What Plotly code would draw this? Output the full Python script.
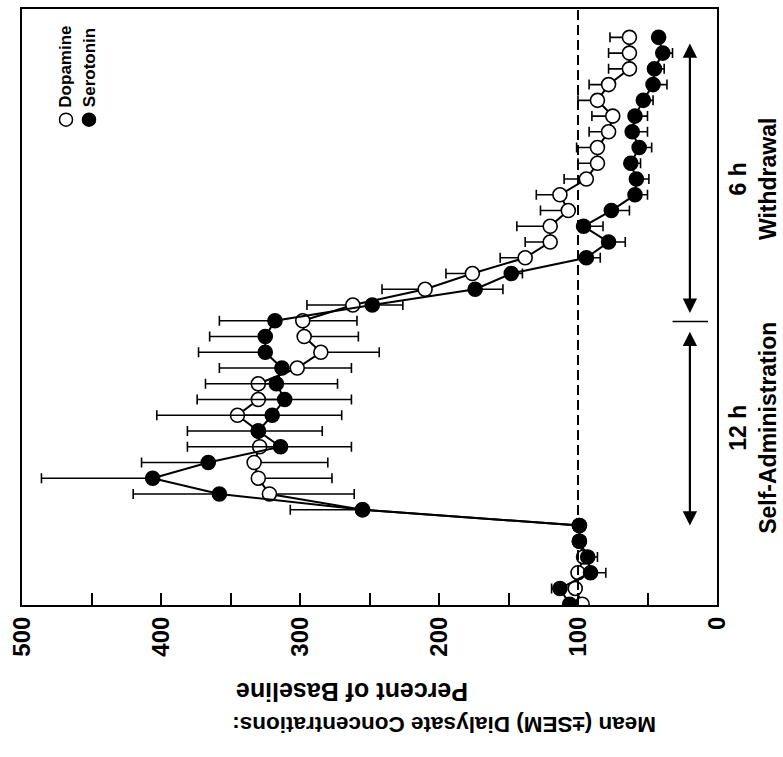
import plotly.graph_objects as go

# sample number (6 baseline samples, then self-administration, then withdrawal)
sample = list(range(1, 38))

dopamine = [97, 102, 100, 96, 99, 99, 255, 322, 330, 333, 329, 330, 345, 330, 330,
            302, 285, 297, 298, 262, 210, 176, 138, 120, 120, 107, 113, 94, 86, 86,
            78, 75, 86, 78, 63, 63, 63]
dopamine_plus = [0, 0, 0, 0, 0, 0, 0, 0, 0, 0, 0, 0, 0, 0, 0, 0, 0, 0, 0,
                 33, 31, 19, 18, 18, 24, 20, 17, 16, 14, 15, 14, 15, 14, 14, 15, 15, 14]
dopamine_minus = [0, 0, 0, 0, 0, 0, 0, 61, 53, 53, 66, 46, 75, 67, 57, 39, 42, 39, 39,
                  0, 0, 0, 0, 0, 0, 0, 0, 0, 0, 0, 0, 0, 0, 0, 0, 0, 0]

serotonin = [106, 113, 91, 93, 99, 99, 255, 358, 406, 366, 314, 330, 320, 311, 317,
             313, 325, 325, 318, 248, 174, 148, 94, 78, 96, 76, 59, 58, 62, 56,
             61, 59, 53, 46, 45, 39, 42]
serotonin_plus = [0, 6, 0, 0, 4, 4, 52, 62, 80, 48, 67, 51, 83, 63, 51, 45, 48, 40, 40,
                  0, 0, 0, 0, 0, 0, 0, 0, 0, 0, 0, 0, 0, 0, 0, 0, 0, 0]
serotonin_minus = [0, 0, 11, 7, 4, 4, 0, 0, 0, 0, 0, 0, 0, 0, 0, 0, 0, 0, 0,
                   22, 20, 8, 10, 12, 14, 13, 9, 9, 7, 9, 11, 9, 7, 10, 7, 7, 3]

value_ticks = [0, 100, 200, 300, 400, 500]
value_minor = [50, 150, 250, 350, 450]
baseline = 100

FONT = "Liberation Sans"

fig = go.Figure()

fig.add_trace(go.Scatter(
    x=dopamine, y=sample, mode="lines+markers", name="Dopamine",
    line=dict(color="black", width=2),
    marker=dict(symbol="circle", size=14, color="white", line=dict(color="black", width=1.6)),
    error_x=dict(type="data", symmetric=False, array=dopamine_plus, arrayminus=dopamine_minus,
                 color="black", thickness=1.6, width=5),
    showlegend=False))

fig.add_trace(go.Scatter(
    x=serotonin, y=sample, mode="lines+markers", name="Serotonin",
    line=dict(color="black", width=2),
    marker=dict(symbol="circle", size=14, color="black", line=dict(color="black", width=1.6)),
    error_x=dict(type="data", symmetric=False, array=serotonin_plus, arrayminus=serotonin_minus,
                 color="black", thickness=1.6, width=5),
    showlegend=False))

# dashed 100% baseline line
fig.add_shape(type="line", xref="x", yref="paper", x0=baseline, x1=baseline, y0=0, y1=1,
              line=dict(color="black", width=2, dash="10px,5px"))

# phase arrows and divider
arrow_x = 19.5
fig.add_annotation(x=arrow_x, y=6.0, ax=arrow_x, ay=18.4, xref="x", yref="y", axref="x", ayref="y",
                   text="", showarrow=True, arrowhead=2, arrowside="end+start",
                   arrowsize=1.3, arrowwidth=2.2, arrowcolor="black")
fig.add_annotation(x=arrow_x, y=19.5, ax=arrow_x, ay=36.7, xref="x", yref="y", axref="x", ayref="y",
                   text="", showarrow=True, arrowhead=2, arrowside="end+start",
                   arrowsize=1.3, arrowwidth=2.2, arrowcolor="black")
fig.add_shape(type="line", xref="x", yref="y", x0=32, x1=6.5, y0=18.95, y1=18.95,
              line=dict(color="black", width=1.5))

# phase labels (rotated)
for label, ypos in [("12 h<br>Self-Administration", 12.2), ("6 h<br>Withdrawal", 28.0)]:
    fig.add_annotation(x=(753 - 22) / 695, y=ypos, xref="paper", yref="y", text=label,
                       showarrow=False, textangle=-90, align="center",
                       xanchor="center", yanchor="middle",
                       font=dict(family=FONT, size=23, color="black", weight="bold"))

# legend (rotated)
for name, xp, fill in [("Dopamine", (66 - 22) / 695, "white"), ("Serotonin", (89 - 22) / 695, "black")]:
    fig.add_shape(type="circle", xref="paper", yref="paper", xsizemode="pixel", ysizemode="pixel",
                  xanchor=xp, yanchor=(605 - 118) / 598, x0=-6.5, x1=6.5, y0=-6.5, y1=6.5,
                  fillcolor=fill, line=dict(color="black", width=1.5))
    fig.add_annotation(x=xp, y=(605 - 108) / 598, xref="paper", yref="paper", text=name,
                       showarrow=False, textangle=-90, yanchor="bottom", xanchor="center",
                       font=dict(family=FONT, size=17, color="black", weight="bold"))

# value-axis title, upside down (two lines)
fig.add_annotation(x=(444 - 22) / 695, y=(605 - 725) / 598, xref="paper", yref="paper",
                   text="Mean (±SEM) Dialysate Concentrations:",
                   showarrow=False, textangle=180, xanchor="center", yanchor="middle",
                   font=dict(family=FONT, size=22.5, color="black", weight="bold"))
fig.add_annotation(x=(352 - 22) / 695, y=(605 - 693) / 598, xref="paper", yref="paper",
                   text="Percent of Baseline",
                   showarrow=False, textangle=180, xanchor="center", yanchor="middle",
                   font=dict(family=FONT, size=25, color="black", weight="bold"))

fig.update_xaxes(range=[500, 0], tickvals=value_ticks, ticktext=[str(v) for v in value_ticks],
                 ticks="inside", ticklen=12, tickwidth=1.5, tickcolor="black", tickangle=-90,
                 minor=dict(tickvals=value_minor, ticks="inside", ticklen=12, tickwidth=1.5,
                            tickcolor="black"),
                 tickfont=dict(family=FONT, size=24, color="black", weight="bold"),
                 showline=True, mirror=True, linewidth=2, linecolor="black",
                 showgrid=False, zeroline=False)
fig.update_yaxes(range=[0.95, 38.8], showticklabels=False, ticks="",
                 showline=True, mirror=True, linewidth=2, linecolor="black",
                 showgrid=False, zeroline=False)

fig.update_layout(width=783, height=757, margin=dict(l=22, r=66, t=7, b=152),
                  paper_bgcolor="white", plot_bgcolor="white")

fig.write_html("out.html")
